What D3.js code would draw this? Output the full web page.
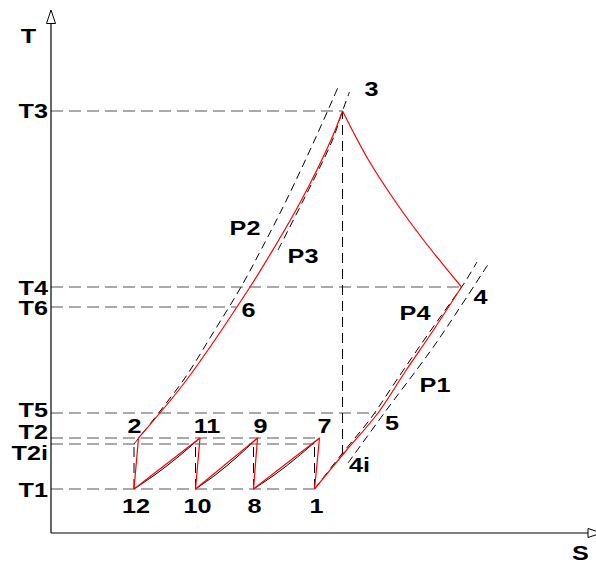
<!DOCTYPE html>
<html>
<head>
<meta charset="utf-8">
<script src="https://cdn.jsdelivr.net/npm/d3@7"></script>
<style>
    body { margin: 0; background: #fff; }
    svg text { font-family: "Liberation Sans", Arial, sans-serif; font-weight: bold; }
</style>
</head>
<body>
<div id="chart"></div>
<script>
// state points of the cycle (entropy s, temperature T), diagram units
let stateNames = ["1", "2", "3", "4", "4i", "5", "6", "7", "8", "9", "10", "11", "12"]
let stateS = [52.7, 17.5, 58.3, 82.1, 58.3, 65.4, 37.1, 53.7, 40.5, 41.3, 28.9, 29.8, 16.6]
let stateT = [8.8, 19, 84.4, 49.2, 15.6, 24, 45.2, 19, 8.8, 19, 8.8, 19, 8.8]

// temperature levels drawn as dashed guides
let levelNames = ["T3", "T4", "T6", "T5", "T2", "T2i", "T1"]
let levelT = [84.4, 49.2, 45.2, 24, 19, 17.8, 8.8]
let levelEndS = [58.3, 82.1, 37.1, 65.0, 53.7, 52.7, 52.7]

// straight red processes (from, to)
let redLines = [["12", "2"], ["10", "11"], ["8", "9"], ["1", "7"], ["12", "11"], ["10", "9"], ["8", "7"]]

// curved red processes
let curve2to3 = [[17.5, 19], [27.1, 30.6], [39.8, 49.2], [44.6, 57], [50.1, 66.6], [56, 78.6], [58.3, 84.4]]
let curve3to4 = [[58.3, 84.4], [63.5, 74.6], [68.8, 66.4], [74.5, 58.6], [82.1, 49.2]]
let curve1to4 = [[52.7, 8.8], [58.8, 16.2], [65.4, 24], [70.8, 32.2], [76.5, 40.6], [82.1, 49.2]]

// black cooling curves under the red chords
let cool12to11 = [[16.6, 8.8], [21, 11.8], [25.4, 15.2], [29.8, 19]]
let cool10to9 = [[28.9, 8.8], [33, 11.7], [37.2, 15.2], [41.3, 19]]
let cool8to7 = [[40.5, 8.8], [44.8, 11.7], [49.3, 15.2], [53.7, 19]]

// isobars (dashed)
let isobarNames = ["P1", "P2", "P3", "P4"]
let isobarP1 = [[59.4, 14], [66.8, 24.2], [75.1, 35.3], [78.4, 40], [87.6, 54]]
let isobarP2 = [[16.6, 17.8], [26.5, 30.6], [32.4, 40], [38, 49.2], [42.2, 57], [47.1, 66.6], [53, 79.2], [57.7, 89.8]]
let isobarP3 = [[45.4, 56.6], [50.5, 66.6], [56.3, 78.6], [58.3, 84.4], [59.7, 88.2]]
let isobarP4 = [[52.7, 8.8], [58, 15.6], [64, 23], [68.6, 29.8], [74.6, 38.6], [80, 46.2], [82.8, 50.2], [85.2, 54.2]]
let isobarLabelS = [76.8, 38.8, 50.4, 72.8]
let isobarLabelT = [28.3, 59.6, 54, 42.6]

// isentropic guides (vertical dashed): s, T from, T to
let isoS = [16.6, 28.9, 40.5, 52.7, 58.3]
let isoFrom = [8.8, 8.8, 8.8, 8.8, 15.6]
let isoTo = [17.8, 17.8, 17.8, 17.8, 84.4]

function renderTS() {
    let width = 596
    let height = 562
    let red = "#ff0000"
    let textScale = 1.2
    let fontSize = 21

    // label offsets in px from each state point (dx, dy to baseline)
    let labelOffset = {
        "1": [2, 24], "12": [2, 24], "10": [2, 24], "8": [1, 24],
        "2": [-4, -5], "11": [7, -5], "9": [3, -5], "7": [5, -5],
        "3": [29, -15], "4": [19, 17], "4i": [17, 17], "5": [14, 17], "6": [12, 10]
    }
    let levelDy = {"T3": 7, "T4": 8, "T6": 8, "T5": 4, "T2": 1, "T2i": 16, "T1": 8}

    let x = d3.scaleLinear().domain([0, 109]).range([51, 596])
    let y = d3.scaleLinear().domain([0, 104.2]).range([533, 12])

    let pt = {}
    stateNames.forEach((n, i) => pt[n] = [stateS[i], stateT[i]])

    let svg = d3.select("#chart")
        .append("svg")
        .attr("width", width)
        .attr("height", height)

    let line = d3.line()
        .x(d => x(d[0]))
        .y(d => y(d[1]))
        .curve(d3.curveCatmullRom.alpha(0.5))

    // temperature guides
    levelNames.forEach((n, i) => {
        svg.append("line")
            .attr("x1", x(0)).attr("x2", x(levelEndS[i]))
            .attr("y1", y(levelT[i])).attr("y2", y(levelT[i]))
            .attr("stroke", "#555")
            .attr("stroke-width", 1.2)
            .attr("stroke-dasharray", "12,6")
    })

    // vertical isentropes
    isoS.forEach((s, i) => {
        svg.append("line")
            .attr("x1", x(s)).attr("x2", x(s))
            .attr("y1", y(isoFrom[i])).attr("y2", y(isoTo[i]))
            .attr("stroke", "#000")
            .attr("stroke-dasharray", "10,6")
    })

    // isobars
    let isobars = [isobarP1, isobarP2, isobarP3, isobarP4]
    isobars.forEach(p => {
        svg.append("path")
            .attr("d", line(p))
            .attr("fill", "none")
            .attr("stroke", "#000")
            .attr("stroke-dasharray", "8,5")
    })

    // cooling curves
    ;[cool12to11, cool10to9, cool8to7].forEach(c => {
        svg.append("path")
            .attr("d", line(c))
            .attr("fill", "none")
            .attr("stroke", "#000")
    })

    // red processes
    redLines.forEach(r => {
        svg.append("line")
            .attr("x1", x(pt[r[0]][0])).attr("y1", y(pt[r[0]][1]))
            .attr("x2", x(pt[r[1]][0])).attr("y2", y(pt[r[1]][1]))
            .attr("stroke", red)
            .attr("stroke-width", 1.2)
    })
    ;[curve2to3, curve3to4, curve1to4].forEach(c => {
        svg.append("path")
            .attr("d", line(c))
            .attr("fill", "none")
            .attr("stroke", red)
            .attr("stroke-width", 1.2)
    })

    // axes with open arrow heads
    let sEnd = 107.4
    let tEnd = 101.9
    svg.append("line")
        .attr("x1", x(0)).attr("x2", x(sEnd))
        .attr("y1", y(0)).attr("y2", y(0))
        .attr("stroke", "#000").attr("stroke-width", 1.2)
    svg.append("line")
        .attr("x1", x(0)).attr("x2", x(0))
        .attr("y1", y(0)).attr("y2", y(tEnd))
        .attr("stroke", "#000").attr("stroke-width", 1.2)
    let ax = x(0), ay = y(tEnd)
    svg.append("path")
        .attr("d", `M${ax - 4.5},${ay} L${ax},${ay - 13.5} L${ax + 4.5},${ay} Z`)
        .attr("fill", "#fff").attr("stroke", "#000")
    let bx = x(sEnd), by = y(0)
    svg.append("path")
        .attr("d", `M${bx},${by - 4.5} L${bx + 13.5},${by} L${bx},${by + 4.5} Z`)
        .attr("fill", "#fff").attr("stroke", "#000")

    function label(txt, px, py, anchor) {
        svg.append("text")
            .attr("transform", `translate(${px},${py}) scale(${textScale},1)`)
            .attr("text-anchor", anchor)
            .attr("font-size", fontSize)
            .text(txt)
    }

    label("T", 28.5, 43, "middle")
    label("S", 580.5, 560, "middle")

    levelNames.forEach((n, i) => label(n, 48, y(levelT[i]) + levelDy[n], "end"))

    stateNames.forEach(n => {
        let o = labelOffset[n]
        label(n, x(pt[n][0]) + o[0], y(pt[n][1]) + o[1], "middle")
    })

    isobarNames.forEach((n, i) => label(n, x(isobarLabelS[i]), y(isobarLabelT[i]), "middle"))
}

renderTS()
</script>
</body>
</html>
